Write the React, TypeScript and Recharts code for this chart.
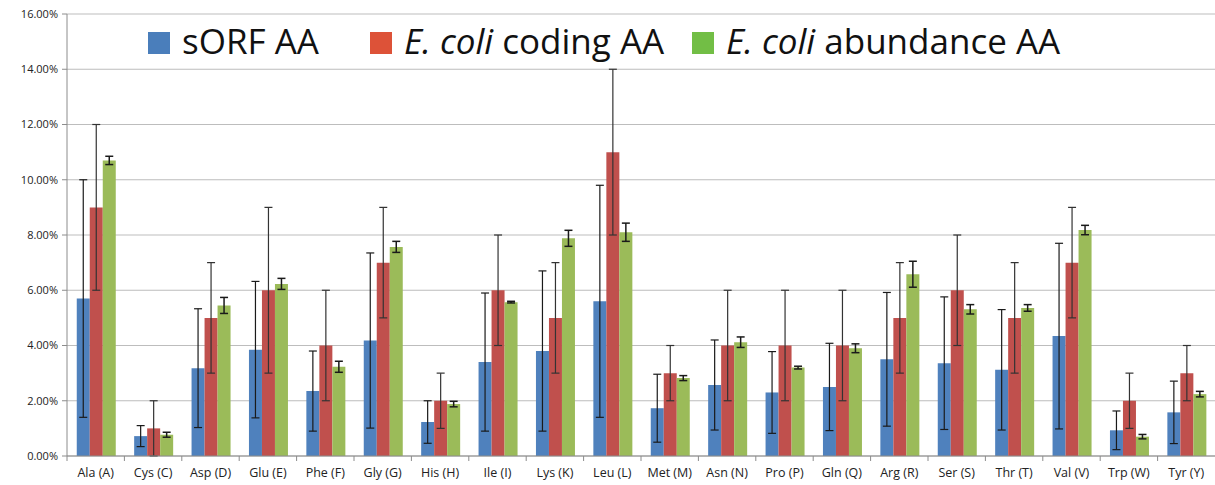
import { BarChart, Bar, XAxis, YAxis, CartesianGrid, ErrorBar } from 'recharts';

const categories = [
  'Ala (A)', 'Cys (C)', 'Asp (D)', 'Glu (E)', 'Phe (F)', 'Gly (G)', 'His (H)', 'Ile (I)', 'Lys (K)', 'Leu (L)',
  'Met (M)', 'Asn (N)', 'Pro (P)', 'Gln (Q)', 'Arg (R)', 'Ser (S)', 'Thr (T)', 'Val (V)', 'Trp (W)', 'Tyr (Y)',
];

// values in percent
const sorf = [5.7, 0.72, 3.18, 3.85, 2.35, 4.18, 1.23, 3.4, 3.8, 5.6, 1.73, 2.57, 2.3, 2.5, 3.5, 3.36, 3.12, 4.34, 0.93, 1.58];
const sorfErr = [4.3, 0.38, 2.15, 2.47, 1.45, 3.17, 0.77, 2.5, 2.9, 4.2, 1.23, 1.63, 1.48, 1.58, 2.42, 2.4, 2.18, 3.36, 0.7, 1.13];
const coding = [9, 1, 5, 6, 4, 7, 2, 6, 5, 11, 3, 4, 4, 4, 5, 6, 5, 7, 2, 3];
const codingErr = [3, 1, 2, 3, 2, 2, 1, 2, 2, 3, 1, 2, 2, 2, 2, 2, 2, 2, 1, 1];
const abundance = [10.7, 0.77, 5.45, 6.23, 3.23, 7.57, 1.88, 5.57, 7.88, 8.1, 2.82, 4.12, 3.2, 3.9, 6.58, 5.31, 5.36, 8.18, 0.7, 2.24];
const abundanceErr = [0.15, 0.09, 0.29, 0.2, 0.2, 0.2, 0.1, 0.03, 0.29, 0.33, 0.09, 0.19, 0.05, 0.16, 0.47, 0.17, 0.12, 0.17, 0.08, 0.1];

const yTicks = [0, 2, 4, 6, 8, 10, 12, 14, 16];

const legendItems = [
  { key: 'sorf', italic: '', text: 'sORF AA', color: '#4A7EBB' },
  { key: 'coding', italic: 'E. coli', text: ' coding AA', color: '#DD5238' },
  { key: 'abundance', italic: 'E. coli', text: ' abundance AA', color: '#72BE45' },
];

const data = categories.map((name, i) => ({
  name,
  sorf: sorf[i],
  sorfErr: sorfErr[i],
  coding: coding[i],
  codingErr: codingErr[i],
  abundance: abundance[i],
  abundanceErr: abundanceErr[i],
}));

const FONT = '"Open Sans", Calibri, sans-serif';
const legendLeft = [148, 370, 692];

const XTick = (props: any) => {
  const { x, y, payload } = props;
  const half = payload && typeof payload.offset === 'number' && payload.offset > 0 ? payload.offset : (1215 - 67) / 40;
  return (
    <g>
      <line x1={x - half} y1={y} x2={x - half} y2={y + 5} stroke="#8c8c8c" />
      <text x={x} y={y + 21} textAnchor="middle" fontSize={12.5} fill="#222" fontFamily={FONT}>
        {payload.value}
      </text>
    </g>
  );
};

const App = () => {
  return (
    <div style={{ position: 'absolute', left: 0, top: 0, width: 1215, height: 485, background: '#fff' }}>
      <BarChart
        width={1215}
        height={485}
        data={data}
        margin={{ top: 14, right: 0, bottom: 0, left: 0 }}
        barCategoryGap="17%"
        barGap={0}
      >
        <CartesianGrid vertical={false} stroke="#bdbdbd" strokeWidth={1.2} />
        <XAxis
          dataKey="name"
          interval={0}
          height={29}
          tickSize={0}
          tickMargin={0}
          tickLine={false}
          tick={<XTick />}
          stroke="#8c8c8c"
        />
        <YAxis
          width={67}
          domain={[0, 16]}
          ticks={yTicks}
          tickFormatter={(v: number) => `${v.toFixed(2)}%`}
          tick={{ fontSize: 11, fill: '#222', fontFamily: FONT }}
          tickSize={5}
          tickMargin={4}
          stroke="#8c8c8c"
          tickLine={{ stroke: '#8c8c8c' }}
        />
        <Bar dataKey="sorf" fill="#4F81BD" isAnimationActive={false}>
          <ErrorBar dataKey="sorfErr" width={4} stroke="#1a1a1a" strokeWidth={1.2} />
        </Bar>
        <Bar dataKey="coding" fill="#C0504D" isAnimationActive={false}>
          <ErrorBar dataKey="codingErr" width={4} stroke="#333" strokeWidth={1.2} />
        </Bar>
        <Bar dataKey="abundance" fill="#9BBB59" isAnimationActive={false}>
          <ErrorBar dataKey="abundanceErr" width={4} stroke="#1a1a1a" strokeWidth={1.5} />
        </Bar>
      </BarChart>
      {legendItems.map((s, i) => (
        <div
          key={s.key}
          style={{
            position: 'absolute',
            left: legendLeft[i],
            top: 23,
            display: 'flex',
            alignItems: 'flex-start',
            fontFamily: FONT,
            fontSize: 35,
            lineHeight: '36px',
            color: '#111',
            whiteSpace: 'nowrap',
          }}
        >
          <span style={{ width: 22, height: 22, background: s.color, display: 'inline-block', marginTop: 9, marginRight: 12 }} />
          <span>
            {s.italic && <i>{s.italic}</i>}
            {s.text}
          </span>
        </div>
      ))}
    </div>
  );
};

export default App;
